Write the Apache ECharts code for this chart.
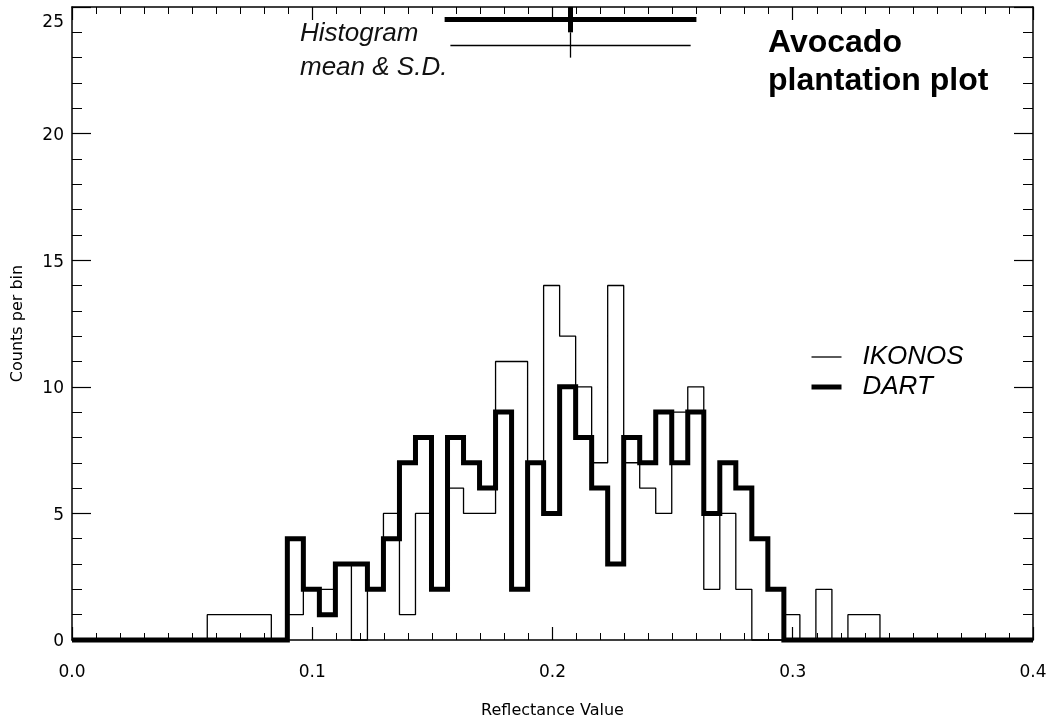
<!DOCTYPE html>
<html>
<head>
<meta charset="utf-8">
<script src="https://cdn.jsdelivr.net/npm/echarts@6/dist/echarts.min.js"></script>
<style>
html,body{margin:0;padding:0;background:#fff;}
#chart{width:1051px;height:724px;}
</style>
</head>
<body>
<div id="chart"></div>
<script>
// ---- data ----
const binStart = 0.0563;          // left edge of first bin (reflectance)
const binWidth = 0.4 / 60;        // bin width (reflectance)
const ikonosCounts = [1,1,1,1,0,1,2,2,3,0,2,5,1,5,2,6,5,5,11,11,7,14,12,10,7,14,7,6,5,9,10,2,5,2,0,0,1,0,2,0,1,1];
const dartCounts   = [0,0,0,0,0,4,2,1,3,3,2,4,7,8,2,8,7,6,9,2,7,5,10,8,6,3,8,7,9,7,9,5,7,6,4,2];
const seriesNames  = ['IKONOS', 'DART'];
const statMean     = [0.2075, 0.2075];   // histogram mean (IKONOS, DART)
const statSD       = [0.0500, 0.0524];   // histogram standard deviation (IKONOS, DART)
const xTickLabels  = ['0.0','0.1','0.2','0.3','0.4'];

const X_MIN = 0, X_MAX = 0.4, Y_MAX = 25;

function stepData(counts) {
  const pts = [[X_MIN, 0]];
  counts.forEach((c, i) => pts.push([binStart + i * binWidth, c]));
  pts.push([binStart + counts.length * binWidth, 0]);
  pts.push([X_MAX, 0]);
  return pts;
}

const FONT = 'DejaVu Sans';
const chart = echarts.init(document.getElementById('chart'));

const xAxisBase = {
  type: 'value', min: X_MIN, max: X_MAX, interval: 0.1,
  axisLine: { show: true, onZero: false, lineStyle: { color: '#000', width: 1.5 } },
  axisTick: { show: true, inside: true, length: 13, lineStyle: { color: '#000', width: 1.2 } },
  minorTick: { show: true, splitNumber: 10, length: 7, lineStyle: { color: '#000', width: 1 } },
  splitLine: { show: false }, minorSplitLine: { show: false }
};
const yAxisBase = {
  type: 'value', min: 0, max: Y_MAX, interval: 5,
  axisLine: { show: true, onZero: false, lineStyle: { color: '#000', width: 1.5 } },
  axisTick: { show: true, inside: true, length: 19, lineStyle: { color: '#000', width: 1.2 } },
  minorTick: { show: true, splitNumber: 5, length: 10, lineStyle: { color: '#000', width: 1 } },
  splitLine: { show: false }, minorSplitLine: { show: false }
};

const rowY = [23.5, 24.5];       // rows of the mean/SD markers (IKONOS, DART)
const rowW = [1.3, 5];
const statLines = [];
for (let i = 0; i < 2; i++) {
  statLines.push({ coords: [[statMean[i] - statSD[i], rowY[i]], [statMean[i] + statSD[i], rowY[i]]], lineStyle: { width: rowW[i] } });
  statLines.push({ coords: [[statMean[i], rowY[i] - 0.5], [statMean[i], rowY[i] + 0.5]], lineStyle: { width: rowW[i] } });
}

chart.setOption({
  animation: false,
  backgroundColor: '#fff',
  grid: { left: 72, right: 18, top: 7, bottom: 84, containLabel: false, outerBoundsMode: 'none' },
  xAxis: [
    Object.assign({}, xAxisBase, {
      position: 'bottom',
      name: 'Reflectance Value', nameLocation: 'middle', nameGap: 63,
      nameTextStyle: { fontFamily: FONT, fontSize: 16, color: '#000' },
      axisLabel: { show: true, margin: 24, fontFamily: FONT, fontSize: 17, color: '#000',
        formatter: v => xTickLabels[Math.round(v / 0.1)] }
    }),
    Object.assign({}, xAxisBase, { position: 'top', axisLabel: { show: false } })
  ],
  yAxis: [
    Object.assign({}, yAxisBase, {
      position: 'left',
      name: 'Counts per bin', nameLocation: 'middle', nameGap: 46,
      nameTextStyle: { fontFamily: FONT, fontSize: 16, color: '#000' },
      axisLabel: { show: true, margin: 8, fontFamily: FONT, fontSize: 17, color: '#000',
        formatter: v => (v === Y_MAX ? '{top|' + v + '}' : '{n|' + v + '}'),
        rich: {
          top: { fontFamily: FONT, fontSize: 17, color: '#000', padding: [32, 0, 0, 0] },
          n: { fontFamily: FONT, fontSize: 17, color: '#000', padding: [4, 0, 0, 0] }
        }
      }
    }),
    Object.assign({}, yAxisBase, { position: 'right', axisLabel: { show: false } })
  ],
  legend: {
    show: true, orient: 'vertical', left: 809, top: 343, padding: 0,
    itemWidth: 30, itemHeight: 14, itemGap: 2, selectedMode: false,
    data: [
      { name: seriesNames[0], lineStyle: { width: 1.3, color: '#000' }, itemStyle: { opacity: 0 } },
      { name: seriesNames[1], lineStyle: { width: 5, color: '#000' }, itemStyle: { opacity: 0 } }
    ],
    textStyle: { fontFamily: 'Liberation Sans', fontStyle: 'italic', fontSize: 26, lineHeight: 28, color: '#000', padding: [0,0,0,16] }
  },
  graphic: [
    { type: 'text', style: { text: 'Histogram', x: 300, y: 34, font: 'italic 26px "Liberation Sans"', fill: '#111', align: 'left', verticalAlign: 'middle' } },
    { type: 'text', style: { text: 'mean & S.D.', x: 300, y: 68, font: 'italic 26px "Liberation Sans"', fill: '#111', align: 'left', verticalAlign: 'middle' } },
    { type: 'text', style: { text: 'Avocado', x: 768, y: 43, font: 'bold 32px "Liberation Sans"', fill: '#000', align: 'left', verticalAlign: 'middle' } },
    { type: 'text', style: { text: 'plantation plot', x: 768, y: 81, font: 'bold 32px "Liberation Sans"', fill: '#000', align: 'left', verticalAlign: 'middle' } }
  ],
  series: [
    {
      name: seriesNames[0], type: 'line', step: 'end', data: stepData(ikonosCounts),
      showSymbol: false, symbol: 'none', clip: false, z: 3,
      lineStyle: { color: '#000', width: 1.3 }, itemStyle: { color: '#000' }
    },
    {
      name: seriesNames[1], type: 'line', step: 'end', data: stepData(dartCounts),
      showSymbol: false, symbol: 'none', clip: false, z: 4,
      lineStyle: { color: '#000', width: 5, join: 'miter' }, itemStyle: { color: '#000' }
    },
    {
      type: 'lines', coordinateSystem: 'cartesian2d', polyline: false, clip: false, z: 5,
      lineStyle: { color: '#000', opacity: 1, curveness: 0 },
      data: statLines
    }
  ]
});
</script>
</body>
</html>
